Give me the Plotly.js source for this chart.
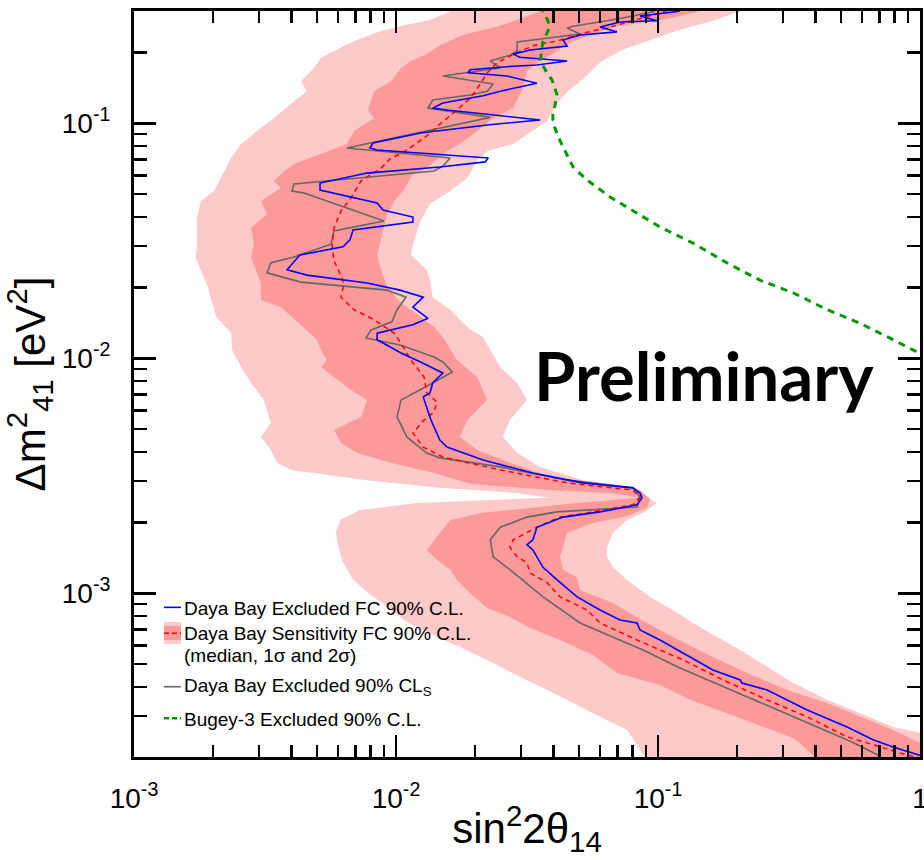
<!DOCTYPE html>
<html><head><meta charset="utf-8">
<script src="https://cdn.plot.ly/plotly-3.0.1.min.js"></script>
<style>html,body{margin:0;padding:0;background:#fff;}#chart{width:924px;height:860px;}</style>
</head><body><div id="chart"></div>
<script>
// ---- 2 sigma sensitivity band (outer, light) : sin^2 2theta14 / dm2_41 ----
const band2X = [0.0168,0.0161,0.01348,0.01036,0.00877,0.00691,0.00517,0.00486,0.00434,0.00457,0.00408,0.00342,0.00295,0.00256,0.00235,0.00221,0.00202,0.00180,0.00174,0.00174,0.00172,0.00190,0.00206,0.00235,0.00237,0.00256,0.00280,0.00313,0.00333,0.00305,0.00333,0.00351,0.00397,0.00775,0.01396,0.0290,0.0387,
0.0243,0.0120,0.00729,0.00611,0.00590,0.00601,0.00622,0.00679,0.00775,0.00908,0.0110,0.0141,0.01755,0.0235,0.0297,0.0397,0.0565,0.0762,0.0892,0.0932,1.09,1.09,
1.0,0.789,0.590,0.442,0.328,0.261,0.206,0.168,0.136,0.114,0.0932,0.0762,0.0673,0.0639,0.0639,0.0673,0.0762,0.0877,0.0991,0.0908,0.0803,0.0517,0.0355,0.0290,0.0256,0.0272,0.0316,0.0290,0.0250,0.0229,0.0215,0.0187,0.0161,0.0138,0.01348,0.0131,0.0114,0.0116,0.0124,0.01348,0.0161,0.0187,0.0204,0.0223,0.0280,0.0345,0.0377,0.0412,0.0450,0.0513,0.0601,0.0729,0.0932,0.121,0.162,0.206,0.215];
const band2Y = [0.319,0.300,0.275,0.259,0.247,0.224,0.190,0.172,0.151,0.137,0.124,0.105,0.0927,0.0817,0.0712,0.0627,0.0515,0.0467,0.0395,0.0306,0.0267,0.0205,0.0150,0.0128,0.01085,0.00918,0.00785,0.00665,0.00531,0.00463,0.00407,0.00359,0.00335,0.00303,0.00283,0.00267,0.00255,
0.00250,0.00242,0.00226,0.00205,0.00182,0.00161,0.00139,0.00116,0.00101,0.000892,0.000755,0.000658,0.000591,0.000505,0.000441,0.000377,0.000309,0.000262,0.000201,0.000186,0.000186,0.000245,
0.000255,0.000270,0.000309,0.000352,0.000415,0.000486,0.000574,0.000652,0.000748,0.000849,0.000965,0.00114,0.00129,0.00143,0.00157,0.00181,0.00205,0.00220,0.00242,0.00257,0.00283,0.00303,0.00345,0.00395,0.00463,0.00546,0.00665,0.00785,0.00918,0.01085,0.0123,0.0136,0.0161,0.0182,0.0215,0.0238,0.0275,0.0306,0.0384,0.0454,0.0515,0.0585,0.0691,0.0762,0.0817,0.0955,0.1023,0.121,0.136,0.153,0.182,0.205,0.226,0.250,0.273,0.300,0.319];

// ---- 1 sigma sensitivity band (inner, dark) ----
const band1X = [0.0371,0.0355,0.0325,0.0256,0.0180,0.0147,0.0131,0.0114,0.01045,0.00957,0.00824,0.00782,0.00824,0.00691,0.00650,0.00517,0.00408,0.00374,0.00342,0.00364,0.00305,0.00322,0.00280,0.00287,0.00280,0.00305,0.00305,0.00364,0.00457,0.00500,0.00517,0.00545,0.00517,0.00580,0.00673,0.00775,0.00735,0.00580,0.00617,0.00710,0.00957,0.01396,0.0192,0.0387,0.0656,0.0854,
0.0491,0.0215,0.0161,0.01434,0.0131,0.01434,0.0161,0.0171,0.0192,0.0223,0.0272,0.0325,0.0423,0.0565,0.0697,0.1018,0.1325,0.183,0.261,0.328,0.364,0.397,0.408,1.09,1.09,
1.0,0.789,0.590,0.442,0.311,0.219,0.162,0.114,0.0908,0.0673,0.0504,0.0491,0.0434,0.0423,0.0450,0.0565,0.0762,0.0908,0.0932,0.0854,0.0601,0.0387,0.0272,0.0204,0.01755,0.0187,0.0223,0.0204,0.0171,0.0151,0.01396,0.01246,0.01045,0.00924,0.00877,0.00847,0.00877,0.00924,0.00991,0.01063,0.0116,0.0131,0.01565,0.01755,0.0204,0.0235,0.0280,0.0305,0.0316,0.0355,0.0397,0.0450,0.0536,0.0697,0.108,0.145,0.151];
const band1Y = [0.319,0.300,0.289,0.262,0.2375,0.215,0.197,0.184,0.172,0.151,0.137,0.114,0.105,0.0927,0.0817,0.0740,0.0671,0.0627,0.0568,0.0531,0.0467,0.0411,0.0359,0.0306,0.0267,0.0209,0.0177,0.0165,0.0132,0.0120,0.01085,0.00984,0.00918,0.00833,0.00733,0.00665,0.00563,0.00495,0.00436,0.00395,0.00359,0.00325,0.00292,0.00275,0.00267,0.00255,
0.00242,0.00220,0.00205,0.00174,0.00153,0.00139,0.00126,0.00114,0.00100,0.000866,0.000793,0.000712,0.000633,0.000546,0.000458,0.000407,0.000352,0.000309,0.000267,0.000242,0.000220,0.000201,0.000186,0.000186,0.000226,
0.000231,0.000262,0.000298,0.000341,0.000388,0.000458,0.000536,0.000652,0.000748,0.000909,0.00103,0.00117,0.00126,0.00143,0.00181,0.00199,0.00213,0.00231,0.00252,0.00275,0.00295,0.00313,0.00359,0.00407,0.00463,0.00546,0.00665,0.00833,0.00984,0.0123,0.0136,0.0150,0.0172,0.0201,0.0238,0.0275,0.0325,0.0407,0.0472,0.0515,0.0608,0.0645,0.0762,0.0817,0.0927,0.105,0.116,0.141,0.167,0.184,0.197,0.218,0.235,0.259,0.278,0.300,0.319];

// ---- median sensitivity (red dashed) ----
const medianX = [0.109,0.0957,0.0796,0.0639,0.0517,0.0412,0.0339,0.0287,0.0243,0.0223,0.0209,0.0192,0.0168,0.0147,0.01325,0.0113,0.01036,0.00957,0.00877,0.00735,0.00673,0.00617,0.00580,0.00570,0.00580,0.00595,0.00633,0.00617,0.00691,0.00824,0.00983,0.01045,0.0114,0.0128,0.0131,0.01434,0.01396,0.0128,0.0116,0.0127,0.0151,0.0250,0.0450,0.0803,0.0854,0.0803,0.0565,0.0423,0.0345,0.0280,0.0272,0.0290,0.0316,0.0325,0.0377,0.0423,0.0536,0.0601,0.0832,0.125,0.177,0.261,0.371,0.527,0.704,0.892,1.045];
const medianY = [0.303,0.289,0.273,0.2545,0.242,0.224,0.215,0.199,0.181,0.164,0.146,0.128,0.112,0.0993,0.0892,0.0785,0.0740,0.0712,0.0645,0.0568,0.0481,0.0424,0.0359,0.0306,0.0259,0.0245,0.0209,0.0182,0.0161,0.0146,0.0128,0.0116,0.00984,0.00833,0.00712,0.00652,0.00591,0.00546,0.00481,0.00419,0.00380,0.00335,0.00295,0.00275,0.00257,0.00238,0.00222,0.00211,0.00191,0.00169,0.00157,0.00143,0.00135,0.00122,0.00111,0.000965,0.000849,0.000748,0.000633,0.000520,0.000428,0.000352,0.000298,0.000245,0.000222,0.000205,0.000197];

// ---- Daya Bay excluded FC 90% C.L. (blue) ----
const fcX = [0.121,0.0854,0.0991,0.0716,0.0601,0.0697,0.0504,0.0434,0.0450,0.0325,0.0280,0.0297,0.0450,0.0345,0.0280,0.0192,0.0188,0.0265,0.0345,0.0250,0.0215,0.0151,0.0138,0.01565,0.0355,0.0223,0.0124,0.00817,0.00796,0.00847,0.0225,0.0219,0.0147,0.00775,0.00513,0.00513,0.00847,0.00892,0.0116,0.0116,0.00686,0.00667,0.00628,0.00430,0.00405,0.00384,0.00457,0.00775,0.01036,0.0127,0.0116,0.01325,0.0116,0.01036,0.00847,0.00847,0.01045,0.0124,0.0151,0.0138,0.01348,0.0127,0.0131,0.0136,0.0147,0.01565,0.0215,0.0333,0.0517,0.0803,0.0854,0.0869,0.0832,0.0601,0.0434,0.0345,0.0333,0.0316,0.0333,0.0364,0.0412,0.0491,0.0601,0.0716,0.0832,0.0854,0.1018,0.125,0.162,0.206,0.209,0.261,0.371,0.527,0.662,0.789,0.940,1.045];
const fcY = [0.300,0.286,0.273,0.270,0.257,0.245,0.2375,0.226,0.213,0.205,0.197,0.191,0.184,0.177,0.175,0.169,0.164,0.159,0.148,0.137,0.131,0.122,0.116,0.114,0.1033,0.0984,0.0909,0.0825,0.0785,0.0770,0.0712,0.0685,0.0652,0.0614,0.0557,0.0520,0.0458,0.0428,0.0399,0.0380,0.0352,0.0319,0.0298,0.0275,0.0255,0.0238,0.0226,0.0209,0.0195,0.0182,0.0165,0.0148,0.0139,0.01346,0.0128,0.0120,0.01053,0.00965,0.00866,0.00785,0.00712,0.00685,0.00620,0.00546,0.00449,0.00419,0.00369,0.00325,0.00295,0.00281,0.00267,0.00255,0.00238,0.00222,0.00211,0.00191,0.00169,0.00161,0.00153,0.00129,0.00114,0.000965,0.000849,0.000770,0.000748,0.000698,0.000633,0.000557,0.000472,0.000428,0.000415,0.000388,0.000319,0.000270,0.000238,0.000222,0.000209,0.000201];

// ---- Daya Bay excluded 90% CLs (gray) ----
const clsX = [0.0974,0.0803,0.0639,0.0474,0.0450,0.0504,0.0290,0.0290,0.0272,0.0250,0.0229,0.0250,0.0151,0.0235,0.0223,0.0192,0.0138,0.01325,0.0229,0.00650,0.0161,0.0151,0.01396,0.00408,0.00401,0.00446,0.00900,0.00580,0.00565,0.00408,0.00333,0.00322,0.00434,0.00924,0.01092,0.01009,0.00965,0.00803,0.00768,0.01036,0.01396,0.0151,0.0164,0.0138,0.01045,0.01009,0.0110,0.0131,0.0147,0.0250,0.0450,0.0803,0.0854,0.0832,0.0412,0.0316,0.0250,0.0229,0.0235,0.0272,0.0364,0.0504,0.0667,0.0877,0.119,0.162,0.221,0.290,0.408,0.550,0.691,0.742];
const clsY = [0.300,0.286,0.273,0.259,0.2545,0.240,0.222,0.203,0.195,0.190,0.184,0.172,0.159,0.147,0.137,0.132,0.1256,0.116,0.106,0.0785,0.0712,0.0658,0.0627,0.0552,0.0515,0.0505,0.0384,0.0348,0.0306,0.0270,0.0255,0.0231,0.0211,0.0195,0.0182,0.0161,0.0143,0.0132,0.0122,0.0114,0.01013,0.00965,0.00875,0.00785,0.00665,0.00563,0.00463,0.00395,0.00377,0.00345,0.00303,0.00281,0.00257,0.00233,0.00222,0.00211,0.00191,0.00169,0.00143,0.00126,0.000965,0.000748,0.000652,0.000574,0.000486,0.000419,0.000362,0.000319,0.000270,0.000233,0.000205,0.000191];

// ---- Bugey-3 excluded 90% C.L. (green dashed) ----
const bugeyX = [0.0364,0.0364,0.0380,0.0387,0.0364,0.0355,0.0377,0.0394,0.0412,0.0397,0.0397,0.0423,0.0474,0.0536,0.0656,0.0832,0.1018,0.136,0.183,0.245,0.328,0.442,0.590,0.789,0.974,1.045];
const bugeyY = [0.319,0.300,0.273,0.257,0.224,0.184,0.164,0.153,0.132,0.1085,0.1003,0.0841,0.0652,0.0574,0.0486,0.0415,0.0362,0.0309,0.0255,0.0215,0.0190,0.0161,0.0141,0.0120,0.01064,0.01033];

// ---- ticks and labels ----
const xTickVals = [0.001, 0.01, 0.1, 1];
const xTickText = ['10<sup>-3</sup>', '10<sup>-2</sup>', '10<sup>-1</sup>', '1'];
const yTickVals = [0.001, 0.01, 0.1];
const yTickText = ['10<sup>-3</sup>', '10<sup>-2</sup>', '10<sup>-1</sup>'];
const xMinorVals = [0.002,0.003,0.004,0.005,0.006,0.007,0.008,0.009,0.02,0.03,0.04,0.05,0.06,0.07,0.08,0.09,0.2,0.3,0.4,0.5,0.6,0.7,0.8,0.9];
const yMinorVals = [0.0003,0.0004,0.0005,0.0006,0.0007,0.0008,0.0009,0.002,0.003,0.004,0.005,0.006,0.007,0.008,0.009,0.02,0.03,0.04,0.05,0.06,0.07,0.08,0.09,0.2];
const legendLabels = ['Daya Bay Excluded FC 90% C.L.', 'Daya Bay Sensitivity FC 90% C.L.', '(median, 1σ and 2σ)', 'Daya Bay Excluded 90% CL<sub>S</sub>', 'Bugey-3 Excluded 90% C.L.'];
const xTitle = 'sin<sup>2</sup>2θ<sub>14</sub>';
const yTitle = 'Δm<sup>2</sup><sub>41</sub> [eV<sup>2</sup>]';
const watermark = 'Preliminary';

const LIGHT = '#fdc9c9', DARK = '#fc9a9a', BLUE = '#0000ff', GRAY = '#666666', RED = '#ff0000', GREEN = '#009a00';
const FONT = 'Liberation Sans, Arial, Helvetica, sans-serif';
const X_RANGE = [-3, 0], Y_RANGE = [-3.6966, -0.5221];

const traces = [
  {type:'scatter', mode:'lines', x:band2X, y:band2Y, fill:'toself', fillcolor:LIGHT, line:{width:0}, hoverinfo:'skip', name:'2σ'},
  {type:'scatter', mode:'lines', x:band1X, y:band1Y, fill:'toself', fillcolor:DARK, line:{width:0}, hoverinfo:'skip', name:'1σ'},
  {type:'scatter', mode:'lines', x:clsX, y:clsY, line:{color:GRAY, width:1.6}, name:legendLabels[3]},
  {type:'scatter', mode:'lines', x:medianX, y:medianY, line:{color:RED, width:1.5, dash:'5px,4px'}, name:legendLabels[1]},
  {type:'scatter', mode:'lines', x:fcX, y:fcY, line:{color:BLUE, width:1.6}, name:legendLabels[0]},
  {type:'scatter', mode:'lines', x:bugeyX, y:bugeyY, line:{color:GREEN, width:3, dash:'7px,6px'}, name:legendLabels[4]},
  // empty carrier for the overlaid minor-tick axes
  {type:'scatter', mode:'lines', x:[], y:[], xaxis:'x2', yaxis:'y2', hoverinfo:'skip', showlegend:false}
];

// legend geometry in paper coords
const lx0 = 0.0382, lx1 = 0.0598, tx = 0.0611;
const shapes = [
  {type:'line', xref:'paper', yref:'paper', x0:lx0, x1:lx1, y0:0.2006, y1:0.2006, line:{color:BLUE, width:1.6}},
  {type:'rect', xref:'paper', yref:'paper', x0:lx0, x1:lx1, y0:0.1515, y1:0.1810, fillcolor:LIGHT, line:{width:0}},
  {type:'rect', xref:'paper', yref:'paper', x0:lx0, x1:lx1, y0:0.1568, y1:0.1756, fillcolor:DARK, line:{width:0}},
  {type:'line', xref:'paper', yref:'paper', x0:lx0, x1:lx1, y0:0.1658, y1:0.1658, line:{color:RED, width:1.5, dash:'5px,3px'}},
  {type:'line', xref:'paper', yref:'paper', x0:lx0, x1:lx1, y0:0.0942, y1:0.0942, line:{color:GRAY, width:1.6}},
  {type:'line', xref:'paper', yref:'paper', x0:lx0, x1:lx1, y0:0.0518, y1:0.0518, line:{color:GREEN, width:2.5, dash:'5px,3px'}}
];
const legY = [0.1997, 0.1649, 0.1361, 0.0938, 0.0496];
const annotations = legendLabels.map((t, i) => ({
  xref:'paper', yref:'paper', x:tx, y:legY[i], xanchor:'left', yanchor:'middle', showarrow:false,
  text:t, font:{family:FONT, size:19, color:'#000'}
}));
annotations.push({xref:'paper', yref:'paper', x:0.7252, y:0.512, xanchor:'center', yanchor:'middle', showarrow:false,
  text:watermark, font:{family:'Lato, Open Sans, sans-serif', size:67, weight:700, color:'#000'}});

const axisCommon = {
  type:'log', showline:true, linewidth:3, linecolor:'#000', mirror:'ticks',
  ticks:'inside', ticklen:22, tickwidth:2.5, tickcolor:'#000', tickmode:'array',
  showgrid:false, zeroline:false, automargin:false, ticklabeloverflow:'allow',
  tickfont:{family:FONT, size:28, color:'#000'}
};
const minorCommon = {
  type:'log', showline:false, mirror:'ticks', ticks:'inside', tickwidth:2.5, tickcolor:'#000',
  tickmode:'array', showticklabels:false, showgrid:false, zeroline:false, automargin:false
};
const layout = {
  width:924, height:860,
  margin:{l:134, r:4, t:11, b:103, pad:0},
  paper_bgcolor:'#fff', plot_bgcolor:'#fff',
  showlegend:false, hovermode:false,
  font:{family:FONT, color:'#000'},
  xaxis: Object.assign({}, axisCommon, {
    range:X_RANGE, tickvals:xTickVals, ticktext:xTickText, ticklabelstandoff:14,
    title:{text:xTitle, font:{family:FONT, size:42, color:'#000'}, standoff:2}
  }),
  yaxis: Object.assign({}, axisCommon, {
    range:Y_RANGE, tickvals:yTickVals, ticktext:yTickText, ticklabelstandoff:15,
    title:{text:yTitle, font:{family:FONT, size:42, color:'#000'}, standoff:12}
  }),
  xaxis2: Object.assign({}, minorCommon, {overlaying:'x', anchor:'y2', side:'bottom', range:X_RANGE, tickvals:xMinorVals, ticklen:12}),
  yaxis2: Object.assign({}, minorCommon, {overlaying:'y', anchor:'x2', side:'left', range:Y_RANGE, tickvals:yMinorVals, ticklen:13}),
  shapes:shapes, annotations:annotations
};
Plotly.newPlot('chart', traces, layout, {displayModeBar:false, staticPlot:true});
</script></body></html>
